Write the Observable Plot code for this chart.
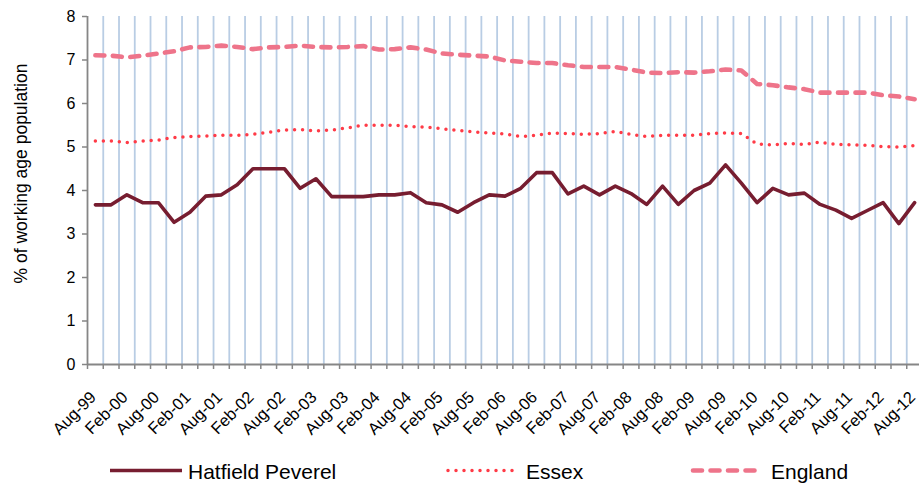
<!DOCTYPE html>
<html><head><meta charset="utf-8">
<script src="https://cdn.jsdelivr.net/npm/d3@7"></script>
<script src="https://cdn.jsdelivr.net/npm/@observablehq/plot@0.6"></script>
<style>
html,body{margin:0;padding:0;background:#fff;}
body{width:919px;height:488px;overflow:hidden;font-family:"Liberation Sans",Arial,sans-serif;}
#chart svg{display:block;overflow:hidden;}
#legend{height:43px;}
#legend svg{display:block;}
</style></head><body>
<div id="chart"></div>
<div id="legend"></div>
<script>
const periods = ["Aug-99","Nov-99","Feb-00","May-00","Aug-00","Nov-00","Feb-01","May-01","Aug-01","Nov-01",
"Feb-02","May-02","Aug-02","Nov-02","Feb-03","May-03","Aug-03","Nov-03","Feb-04","May-04",
"Aug-04","Nov-04","Feb-05","May-05","Aug-05","Nov-05","Feb-06","May-06","Aug-06","Nov-06",
"Feb-07","May-07","Aug-07","Nov-07","Feb-08","May-08","Aug-08","Nov-08","Feb-09","May-09",
"Aug-09","Nov-09","Feb-10","May-10","Aug-10","Nov-10","Feb-11","May-11","Aug-11","Nov-11",
"Feb-12","May-12","Aug-12"];
const hatfield = [3.67,3.67,3.9,3.72,3.72,3.27,3.5,3.87,3.9,4.13,
4.5,4.5,4.5,4.05,4.27,3.86,3.86,3.86,3.9,3.9,
3.95,3.72,3.67,3.5,3.72,3.9,3.87,4.05,4.41,4.41,
3.92,4.1,3.9,4.1,3.93,3.68,4.1,3.68,4.0,4.17,
4.59,4.17,3.72,4.05,3.9,3.94,3.68,3.55,3.36,3.54,
3.72,3.24,3.72];
const essex = [5.14,5.14,5.1,5.14,5.16,5.22,5.24,5.25,5.27,5.27,
5.29,5.34,5.39,5.4,5.37,5.39,5.44,5.5,5.5,5.5,
5.47,5.46,5.42,5.38,5.35,5.32,5.3,5.24,5.27,5.32,
5.31,5.29,5.31,5.36,5.29,5.24,5.27,5.27,5.27,5.31,
5.32,5.31,5.07,5.05,5.08,5.06,5.11,5.06,5.05,5.04,
5.01,5.0,5.03];
const england = [7.11,7.1,7.06,7.1,7.15,7.2,7.29,7.3,7.33,7.3,
7.25,7.29,7.3,7.33,7.3,7.29,7.3,7.32,7.24,7.25,
7.29,7.24,7.15,7.12,7.1,7.08,6.99,6.96,6.93,6.93,
6.88,6.84,6.84,6.84,6.78,6.71,6.7,6.72,6.71,6.74,
6.78,6.76,6.45,6.42,6.37,6.33,6.25,6.25,6.25,6.25,
6.19,6.16,6.1];
const yTicks = [0,1,2,3,4,5,6,7,8];
const seriesNames = ["Hatfield Peverel","Essex","England"];
const yTitle = "% of working age population";

const colors = {hat:"#771d30", ess:"#ff3b47", eng:"#ee748a"};
const rows = periods.map((p, i) => ({i, p}));
const tickLabels = rows.filter(d => /^(Aug|Feb)/.test(d.p));
const boundaries = d3.range(periods.length + 1).map(k => k - 0.5);

const chart = Plot.plot({
  width: 919,
  height: 445,
  marginTop: 16,
  marginBottom: 81,
  marginLeft: 87,
  marginRight: 0,
  style: {fontFamily: '"Liberation Sans", Arial, sans-serif', background: "#fff"},
  x: {type: "linear", domain: [-0.5, periods.length - 0.5], range: [87, 922], axis: null},
  y: {domain: [0, 8], axis: null},
  marks: [
    Plot.ruleX(boundaries.slice(1), {y1: 0, y2: 8, stroke: "#b9cde4", strokeWidth: 1.8}),
    Plot.axisX(boundaries, {tickSize: 5, tickFormat: () => "", label: null, stroke: "#868686", strokeWidth: 1.5}),
    Plot.axisY(yTicks, {tickSize: 5, tickPadding: 7, label: null, stroke: "#868686", fill: "#000", fontSize: 16, strokeWidth: 1.5}),
    Plot.ruleY([0], {x1: -0.5, x2: periods.length - 0.5, stroke: "#868686", strokeWidth: 1.8}),
    Plot.ruleX([-0.5], {y1: 0, y2: 8, stroke: "#868686", strokeWidth: 1.8}),
    Plot.text(tickLabels, {x: "i", y: 0, text: "p", rotate: -45, textAnchor: "end", dy: 30, dx: -2, fontSize: 16.5, fill: "#000"}),
    Plot.text([yTitle], {frameAnchor: "left", textAnchor: "middle", rotate: -90, dx: -66, dy: -17, fontSize: 17.5, fill: "#000"}),
    Plot.lineY(hatfield, {stroke: colors.hat, strokeWidth: 3.6}),
    Plot.lineY(essex, {stroke: colors.ess, strokeWidth: 3.5, strokeDasharray: "0 8", strokeLinecap: "round"}),
    Plot.lineY(england, {stroke: colors.eng, strokeWidth: 4.6, strokeDasharray: "9 8.5", strokeLinecap: "round"})
  ]
});
document.getElementById("chart").appendChild(chart);

// legend
const leg = d3.select("#legend").append("svg").attr("width", 919).attr("height", 43);
const items = [
  {name: seriesNames[0], x1: 110, x2: 182, tx: 188, color: colors.hat, w: 3.6, dash: null},
  {name: seriesNames[1], x1: 448, x2: 517, tx: 526, color: colors.ess, w: 3.5, dash: "0 8"},
  {name: seriesNames[2], x1: 693, x2: 760, tx: 771, color: colors.eng, w: 4.6, dash: "9 8.5"}
];
for (const it of items) {
  leg.append("line").attr("x1", it.x1).attr("x2", it.x2).attr("y1", 25.5).attr("y2", 25.5)
    .attr("stroke", it.color).attr("stroke-width", it.w)
    .attr("stroke-linecap", it.dash ? "round" : "butt")
    .attr("stroke-dasharray", it.dash);
  leg.append("text").attr("x", it.tx).attr("y", 33.5).attr("font-size", 21)
    .attr("font-family", '"Liberation Sans", Arial, sans-serif').attr("fill", "#000").text(it.name);
}
</script>
</body></html>
